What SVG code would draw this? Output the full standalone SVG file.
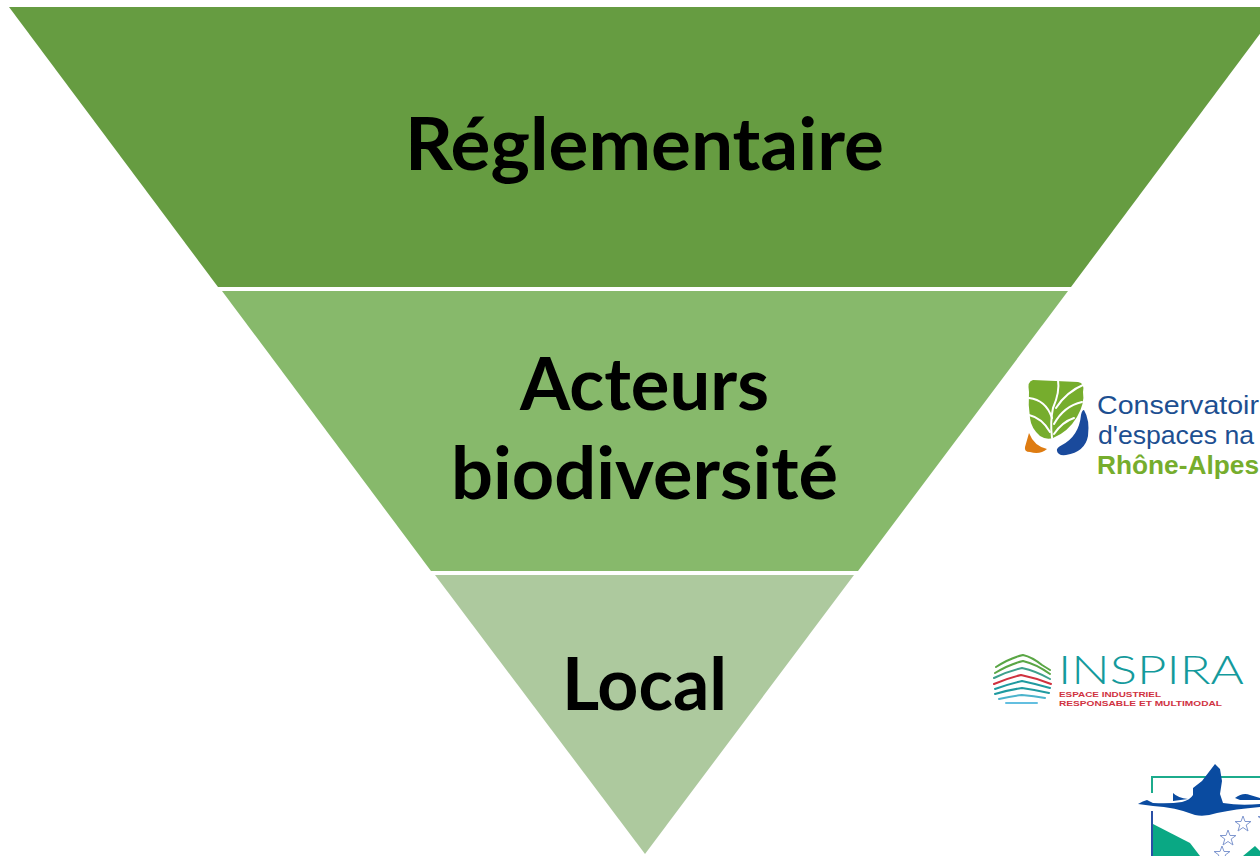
<svg xmlns="http://www.w3.org/2000/svg" width="1260" height="856" viewBox="0 0 1260 856">
<defs><path id="s" d="M0,-8 L2,-2.5 H8 L3.2,1 5,7 0,3.5 -5,7 -3.2,1 -8,-2.5 H-2 Z"/></defs>
<style>
.t{font-family:"Lato","Carlito","Open Sans",sans-serif;font-weight:700;font-size:72px;fill:#000}
.c{font-family:"Liberation Sans",Arial,sans-serif;font-size:26px}
.i{font-family:"Liberation Sans",Arial,sans-serif;font-weight:700;font-size:7.2px;fill:#d0323f}
.w{fill:none;stroke-width:2;stroke-linecap:round;stroke-linejoin:round}
</style>
<rect width="1260" height="856" fill="#fff"/>
<g id="tier-reglementaire">
<polygon points="9,7 1280,7 1071,287 218,287" fill="#669c41"/>
<text class="t" x="405" y="170" textLength="479" lengthAdjust="spacingAndGlyphs">Réglementaire</text>
</g>
<g id="tier-acteurs">
<polygon points="222,291 1068,291 858,571 431,571" fill="#87b96b"/>
<text class="t" x="520" y="410" textLength="249" lengthAdjust="spacingAndGlyphs">Acteurs</text>
<text class="t" x="451" y="499" textLength="387" lengthAdjust="spacingAndGlyphs">biodiversité</text>
</g>
<g id="tier-local">
<polygon points="435,575 854,575 645,854" fill="#adc99e"/>
<text class="t" x="562" y="710" textLength="165" lengthAdjust="spacingAndGlyphs">Local</text>
</g>
<g id="logo-conservatoire">
<path d="M1033,380 L1078,382 Q1085,383 1083,392 Q1085,403 1077,417 Q1068,432 1053,438 Q1046,440 1040,436 Q1031,428 1030,418 Q1028,405 1029,392 Q1027,381 1033,380 Z" fill="#76ad2d"/>
<g class="w" stroke="#fff"><path d="M1058,380 Q1060,392 1053,408 Q1050,422 1052,438"/><path d="M1029,398 Q1046,400 1052,418"/><path d="M1029,415 Q1042,418 1050,432"/><path d="M1085,384 Q1066,392 1056,408"/><path d="M1082,402 Q1064,406 1054,424"/><path d="M1074,418 Q1062,422 1054,434"/></g>
<path d="M1029,433 Q1034,446 1047,449 Q1040,455 1030,452 Q1024,452 1025,447 Z" fill="#de7c12"/>
<path d="M1084,410 Q1090,420 1088,436 Q1085,452 1066,455 Q1058,456 1057,451 Q1056,448 1062,445 Q1079,436 1081,415 Q1082,410 1084,410 Z" fill="#1a4a9c"/>
<text class="c" x="1097" y="414" fill="#1d4f91" textLength="162" lengthAdjust="spacingAndGlyphs">Conservatoir</text>
<text class="c" x="1098" y="444" fill="#1d4f91" textLength="156" lengthAdjust="spacingAndGlyphs">d'espaces na</text>
<text class="c" x="1097" y="474" fill="#76ad2d" style="font-weight:700" textLength="162" lengthAdjust="spacingAndGlyphs">Rhône-Alpes</text>
</g>
<g id="logo-inspira">
<g class="w"><path d="M996,667 Q1010,658 1023,655 Q1032,657 1042,665 L1050,670" stroke="#5aa645"/><path d="M995,673 Q1010,664 1023,661 Q1036,664 1050,674" stroke="#5aa645"/><path d="M994,678 Q1008,671 1022,668 Q1036,671 1050,679" stroke="#3ea08c"/><path d="M994,684 Q1008,678 1021,675 Q1036,678 1051,684" stroke="#d0323f"/><path d="M995,689 Q1008,684 1022,681 Q1036,684 1050,688" stroke="#1f9aa0"/><path d="M995,694 Q1008,690 1022,688 Q1036,690 1049,693" stroke="#1f9aa0"/><path d="M999,699 Q1012,696 1022,695 Q1034,696 1045,698" stroke="#4bb3cc"/><path d="M1006,703 L1037,703" stroke="#63bfe0"/></g>
<text x="1058" y="684" font-family="Lato,'Liberation Sans',Arial,sans-serif" font-weight="300" font-size="39" fill="#149a9c" textLength="186" lengthAdjust="spacingAndGlyphs">INSPIRA</text>
<text class="i" x="1059" y="697" textLength="102" lengthAdjust="spacingAndGlyphs">ESPACE INDUSTRIEL</text>
<text class="i" x="1059" y="705.5" textLength="163" lengthAdjust="spacingAndGlyphs">RESPONSABLE ET MULTIMODAL</text>
</g>
<g id="logo-bird">
<path d="M1152,793 V777 H1260" stroke="#1cab8c" stroke-width="2" fill="none"/>
<path d="M1152,811 V856" stroke="#2a4fa5" stroke-width="2" fill="none"/>
<path d="M1153,824 L1190,843 L1200,856 H1153 Z" fill="#0aa884"/>
<path d="M1243,856 L1255,846 L1260,851 V856 Z" fill="#0aa884"/>
<path d="M1173,793 Q1178,798 1188,799 L1173,801 Z M1235,798 Q1243,792 1250,795 L1260,798 V800 H1240 Z" fill="#0a4ba0"/>
<path d="M1138,804 Q1143,801 1147,800 L1153,803 Q1170,804 1182,802 Q1190,800 1193,795 L1193,788 L1202,781 L1215,764 L1220,769 L1222,781 L1220,794 L1223,803 Q1240,806 1260,804 V807 Q1235,809 1217,813 Q1205,817 1195,815 Q1175,807 1153,806 Z" fill="#0a4ba0"/>
<g fill="none" stroke="#7f97cf" stroke-width="1"><use href="#s" x="1243" y="824"/><use href="#s" x="1228" y="838"/><use href="#s" x="1222" y="854"/><use href="#s" x="1266" y="819"/></g>
</g>
</svg>
